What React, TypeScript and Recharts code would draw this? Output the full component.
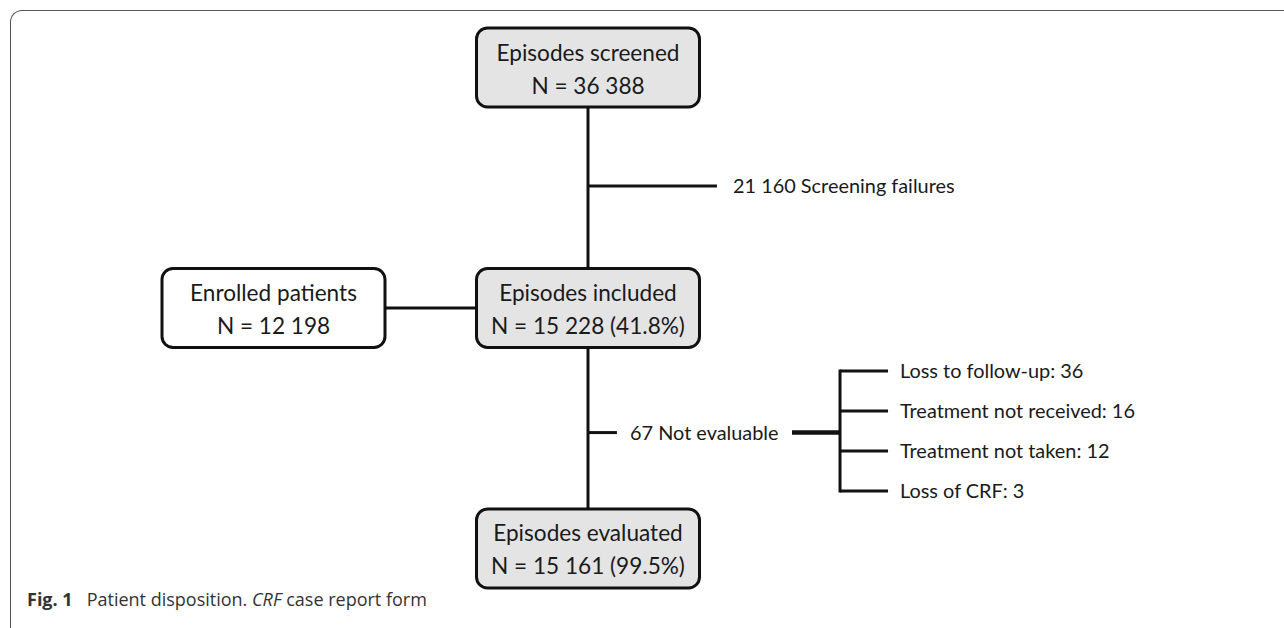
import React from "react";
import { ScatterChart, Scatter, XAxis, YAxis, ReferenceLine } from "recharts";

// ---------- data ----------
const stageLabels = ["Episodes screened", "Episodes included", "Episodes evaluated"];
const stageCounts = [36388, 15228, 15161];
const stagePercents: (number | null)[] = [null, 41.8, 99.5];

const enrolledLabel = "Enrolled patients";
const enrolledCount = 12198;

const screeningFailures = 21160;
const notEvaluable = 67;

const reasonLabels = ["Loss to follow-up", "Treatment not received", "Treatment not taken", "Loss of CRF"];
const reasonCounts = [36, 16, 12, 3];

// ---------- layout (chart units: column / row) ----------
const W = 1284;
const H = 628;
const MARGIN = { top: 0, bottom: 0, left: 0, right: 0 };
const X_DOMAIN: [number, number] = [-1.8696, 2.2130];
const Y_DOMAIN: [number, number] = [-0.2807, 2.3306];
const MAIN_COL = 0;
const SIDE_COL = -1;
const FAIL_Y = 0.493;
const FAIL_X_END = 0.41;
const FAIL_TEXT_X = 0.461;
const NE_Y = 1.518;
const NE_X_END = 0.092;
const NE_TEXT_X = 0.1335;
const NE_THICK_X0 = 0.6486;
const BRACKET_X = 0.8013;
const REASON_Y0 = 1.262;
const REASON_STEP = 0.1663;
const REASON_X_END = 0.954;
const REASON_TEXT_X = 0.992;

// ---------- style ----------
const BOX_W = 223;
const BOX_H = 79;
const FONT = "Lato, 'Open Sans', sans-serif";
const INK = "#111";
const TEXT = "#1a1a1a";

const fmt = (n: number) => String(n).replace(/\B(?=(\d{3})+(?!\d))/g, " ");

const stageData = stageLabels.map((label, i) => ({
  x: MAIN_COL,
  y: i,
  line1: label,
  line2: `N = ${fmt(stageCounts[i])}` + (stagePercents[i] != null ? ` (${stagePercents[i]}%)` : ""),
}));
const enrolledData = [{ x: SIDE_COL, y: 1, line1: enrolledLabel, line2: `N = ${fmt(enrolledCount)}` }];
const reasonY = reasonLabels.map((_, i) => REASON_Y0 + i * REASON_STEP);
const labelData = [
  { x: FAIL_TEXT_X, y: FAIL_Y, text: `${fmt(screeningFailures)} Screening failures` },
  { x: NE_TEXT_X, y: NE_Y, text: `${notEvaluable} Not evaluable` },
  ...reasonLabels.map((r, i) => ({ x: REASON_TEXT_X, y: reasonY[i], text: `${r}: ${reasonCounts[i]}` })),
];

type Seg = { a: [number, number]; b: [number, number]; w: number; cap?: string };
const segments: Seg[] = [
  { a: [MAIN_COL, 0], b: [MAIN_COL, 2], w: 3 },
  { a: [SIDE_COL, 1], b: [MAIN_COL, 1], w: 3 },
  { a: [MAIN_COL, FAIL_Y], b: [FAIL_X_END, FAIL_Y], w: 3 },
  { a: [MAIN_COL, NE_Y], b: [NE_X_END, NE_Y], w: 3 },
  { a: [NE_THICK_X0, NE_Y], b: [BRACKET_X, NE_Y], w: 4.5 },
  { a: [BRACKET_X, reasonY[0]], b: [BRACKET_X, reasonY[reasonY.length - 1]], w: 3, cap: "square" },
  ...reasonY.map((y) => ({ a: [BRACKET_X, y] as [number, number], b: [REASON_X_END, y] as [number, number], w: 3 })),
];

const makeBox = (fill: string) => (props: any) => {
  const { cx, cy, payload } = props;
  return (
    <g>
      <rect x={cx - BOX_W / 2} y={cy - BOX_H / 2} width={BOX_W} height={BOX_H} rx={11} ry={11}
        fill={fill} stroke={INK} strokeWidth={3} />
      <text x={cx} y={cy - 7} textAnchor="middle" fontFamily={FONT} fontSize={22.6} fill={TEXT}>{payload.line1}</text>
      <text x={cx} y={cy + 26} textAnchor="middle" fontFamily={FONT} fontSize={22.6} fill={TEXT}>{payload.line2}</text>
    </g>
  );
};

const LabelShape = (props: any) => {
  const { cx, cy, payload } = props;
  return (
    <text x={cx} y={cy} dy="0.36em" textAnchor="start" fontFamily={FONT} fontSize={19.9} fill={TEXT}>
      {payload.text}
    </text>
  );
};

export default function App() {
  return (
    <div style={{ position: "absolute", left: 0, top: 0, width: W, height: H, overflow: "hidden", background: "#fff" }}>
      <div style={{
        position: "absolute", left: 10, top: 10, width: W + 50, height: H + 50,
        borderTop: "1.3px solid #555", borderLeft: "1.3px solid #555", borderTopLeftRadius: 12,
      }} />
      <div style={{ position: "absolute", left: 0, top: 0 }}>
        <ScatterChart width={W} height={H} margin={MARGIN}>
          <XAxis type="number" dataKey="x" domain={X_DOMAIN} hide allowDataOverflow />
          <YAxis type="number" dataKey="y" domain={Y_DOMAIN} reversed hide allowDataOverflow />
          {segments.map((s, i) => (
            <ReferenceLine key={i} segment={[{ x: s.a[0], y: s.a[1] }, { x: s.b[0], y: s.b[1] }]}
              stroke={INK} strokeWidth={s.w} strokeLinecap={s.cap as any} ifOverflow="visible" />
          ))}
          <Scatter data={stageData} shape={makeBox("#e4e4e4")} isAnimationActive={false} />
          <Scatter data={enrolledData} shape={makeBox("#ffffff")} isAnimationActive={false} />
          <Scatter data={labelData} shape={LabelShape} isAnimationActive={false} />
        </ScatterChart>
      </div>
      <div style={{
        position: "absolute", left: 27, top: 587, fontFamily: "'Open Sans', sans-serif", fontSize: 18,
        color: "#333", whiteSpace: "nowrap",
      }}>
        <b style={{ marginRight: 14 }}>Fig. 1</b>Patient disposition. <i>CRF</i> case report form
      </div>
    </div>
  );
}
